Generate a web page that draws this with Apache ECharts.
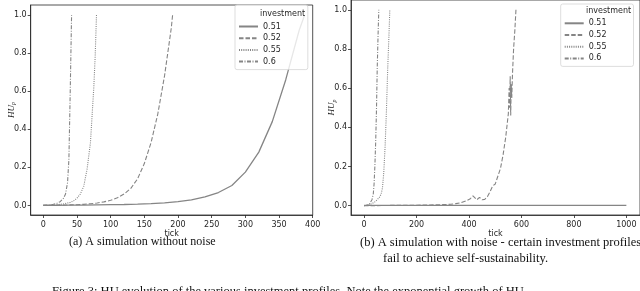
<!DOCTYPE html>
<html><head><meta charset="utf-8">
<script src="https://cdn.jsdelivr.net/npm/echarts@6/dist/echarts.min.js"></script>
<style>html,body{margin:0;padding:0;background:#fff}#c{width:640px;height:291px}</style>
</head><body><div id="c"></div>
<script>
// ---- data: (a) without noise ----
const seriesNames = ['0.51', '0.52', '0.55', '0.6'];
const a51x = [0, 20, 40, 60, 80, 100, 120, 140, 160, 180, 200, 220, 240, 260, 280, 300, 320, 340, 360, 380, 388];
const a51y = [0.001, 0.001, 0.002, 0.002, 0.003, 0.004, 0.005, 0.007, 0.010, 0.014, 0.020, 0.029, 0.045, 0.068, 0.105, 0.175, 0.28, 0.44, 0.66, 0.92, 1.0];
const a52x = [0, 10, 20, 30, 40, 50, 60, 70, 80, 90, 100, 110, 120, 130, 140, 150, 160, 170, 180, 190, 192];
const a52y = [0.001, 0.001, 0.002, 0.002, 0.003, 0.004, 0.006, 0.009, 0.013, 0.019, 0.027, 0.04, 0.06, 0.09, 0.14, 0.22, 0.33, 0.48, 0.68, 0.93, 1.0];
const a55x = [0, 10, 20, 30, 40, 45, 50, 55, 60, 65, 70, 75, 77, 79];
const a55y = [0.001, 0.002, 0.004, 0.008, 0.016, 0.024, 0.038, 0.06, 0.10, 0.19, 0.33, 0.62, 0.78, 1.0];
const a60x = [0, 5, 10, 15, 20, 25, 30, 33, 36, 38, 40, 41, 42];
const a60y = [0.001, 0.002, 0.003, 0.006, 0.011, 0.02, 0.038, 0.06, 0.12, 0.24, 0.6, 0.8, 1.0];
// ---- data: (b) with noise ----
const b51x = [0, 250, 500, 750, 1000];
const b51y = [0.001, 0.001, 0.001, 0.001, 0.001];
const b52x = [0, 50, 100, 150, 200, 250, 300, 330, 350, 370, 390, 405, 415, 420, 430, 440, 450, 460, 470, 480, 490, 495, 500, 505, 510, 520, 530, 540, 550, 553, 555, 557, 559, 561, 563, 566, 570, 575, 579];
const b52y = [0.0, 0.0, 0.001, 0.001, 0.002, 0.003, 0.005, 0.007, 0.01, 0.015, 0.025, 0.035, 0.05, 0.045, 0.03, 0.042, 0.03, 0.032, 0.045, 0.07, 0.1, 0.095, 0.11, 0.13, 0.14, 0.19, 0.26, 0.35, 0.47, 0.6, 0.5, 0.66, 0.46, 0.62, 0.55, 0.68, 0.8, 0.9, 1.0];
const b55x = [0, 10, 20, 30, 40, 50, 60, 65, 70, 75, 80, 85, 90, 95, 98];
const b55y = [0.0, 0.002, 0.005, 0.01, 0.018, 0.03, 0.045, 0.06, 0.09, 0.17, 0.3, 0.48, 0.7, 0.88, 1.0];
const b60x = [0, 10, 20, 25, 30, 35, 38, 41, 44, 47, 50, 53, 56];
const b60y = [0.0, 0.002, 0.008, 0.015, 0.03, 0.06, 0.11, 0.2, 0.32, 0.48, 0.7, 0.86, 1.0];
// ---- ticks ----
const aXTicks = [0, 50, 100, 150, 200, 250, 300, 350, 400];
const bXTicks = [0, 200, 400, 600, 800, 1000];
const yTicks = [0.0, 0.2, 0.4, 0.6, 0.8, 1.0];
const legendTitle = 'investment';
const captionA = '(a) A simulation without noise';
const captionB1 = '(b) A simulation with noise - certain investment profiles';
const captionB2 = 'fail to achieve self-sustainability.';
const captionFig = 'Figure 3: HU evolution of the various investment profiles. Note the exponential growth of HU.';

const zip = (xs, ys) => xs.map((x, i) => [x, ys[i]]);
const lineCol = '#858585';
const dashes = {'0.51': 'solid', '0.52': [4.5, 2], '0.55': [1, 1.2], '0.6': [4, 1.5, 1, 1.5]};
const axCol = '#262626';
const font = 'DejaVu Sans';

function mkSeries(name, xs, ys, idx) {
  return {
    name: name, type: 'line', xAxisIndex: idx, yAxisIndex: idx,
    data: zip(xs, ys), symbol: 'none', showSymbol: false, animation: false,
    lineStyle: {color: lineCol, width: name === '0.51' ? 1.3 : 1.1, type: dashes[name]},
    itemStyle: {color: lineCol}
  };
}
function xAxis(idx, min, max, ticks) {
  return {
    type: 'value', gridIndex: idx, min: min, max: max,
    name: 'tick', nameLocation: 'middle', nameGap: 15, nameMoveOverlap: false,
    nameTextStyle: {fontFamily: font, fontSize: 8, color: axCol},
    axisLine: {show: true, onZero: false, lineStyle: {color: axCol, width: 0.8}},
    axisTick: {show: true, length: 3, customValues: ticks, lineStyle: {color: axCol, width: 0.8}},
    axisLabel: {customValues: ticks, formatter: v => String(v), fontFamily: font, fontSize: 8, color: axCol, margin: 5.5},
    splitLine: {show: false}
  };
}
function yAxis(idx, min, max) {
  return {
    type: 'value', gridIndex: idx, min: min, max: max,
    name: '{h|HU}{s|p}', nameLocation: 'middle', nameGap: 14, nameRotate: 90, nameMoveOverlap: false,
    nameTextStyle: {rich: {
      h: {fontFamily: 'Liberation Serif', fontStyle: 'italic', fontSize: 9, color: axCol},
      s: {fontFamily: 'Liberation Serif', fontStyle: 'italic', fontSize: 6, color: axCol, padding: [5, 0, 0, 0]}
    }},
    axisLine: {show: true, onZero: false, lineStyle: {color: axCol, width: 0.8}},
    axisTick: {show: true, length: 3, customValues: yTicks, lineStyle: {color: axCol, width: 0.8}},
    axisLabel: {customValues: yTicks, formatter: v => v.toFixed(1), fontFamily: font, fontSize: 8, color: axCol, margin: 4},
    splitLine: {show: false}
  };
}
function legend(left, top, padTop) {
  return {
    left: left, top: top, orient: 'vertical', itemWidth: 19, itemHeight: 8, itemGap: 3.7,
    padding: [padTop, 27, 4, 3], backgroundColor: 'rgba(255,255,255,0.8)',
    borderColor: '#d4d4d4', borderWidth: 0.8, borderRadius: 2,
    textStyle: {fontFamily: font, fontSize: 8, color: axCol},
    itemStyle: {opacity: 0},
    selectedMode: false, data: seriesNames
  };
}
const chart = echarts.init(document.getElementById('c'), null, {renderer: 'canvas'});
chart.setOption({
  animation: false,
  grid: [
    {left: 30.7, right: 327.3, top: 5, bottom: 76, show: true, borderColor: axCol, borderWidth: 0.8},
    {left: 351, right: 0, top: 0, bottom: 76, show: true, borderColor: axCol, borderWidth: 0.8}
  ],
  xAxis: [xAxis(0, -18.7, 400, aXTicks), xAxis(1, -50, 1052, bXTicks)],
  yAxis: [yAxis(0, -0.05, 1.052), yAxis(1, -0.048, 1.05)],
  legend: [legend(235, 5, 17.5), legend(560.7, 4, 15.3)],
  series: [
    mkSeries('0.51', a51x, a51y, 0), mkSeries('0.52', a52x, a52y, 0),
    mkSeries('0.55', a55x, a55y, 0), mkSeries('0.6', a60x, a60y, 0),
    mkSeries('0.51', b51x, b51y, 1), mkSeries('0.52', b52x, b52y, 1),
    mkSeries('0.55', b55x, b55y, 1), mkSeries('0.6', b60x, b60y, 1)
  ],
  graphic: [
    {type: 'text', z: 100, left: 260, top: 10, style: {text: legendTitle, fontFamily: font, fontSize: 8, fill: axCol}},
    {type: 'text', z: 100, left: 586, top: 7, style: {text: legendTitle, fontFamily: font, fontSize: 8, fill: axCol}},
    {type: 'text', left: 69, top: 236, style: {text: captionA, fontFamily: 'Liberation Serif', fontSize: 12, fill: '#111'}},
    {type: 'text', left: 360, top: 236, style: {text: captionB1, fontFamily: 'Liberation Serif', fontSize: 12.5, fill: '#111'}},
    {type: 'text', left: 383, top: 252, style: {text: captionB2, fontFamily: 'Liberation Serif', fontSize: 12.5, fill: '#111'}},
    {type: 'text', left: 52, top: 285, style: {text: captionFig, fontFamily: 'Liberation Serif', fontSize: 12.5, fill: '#111'}}
  ]
});
</script></body></html>
